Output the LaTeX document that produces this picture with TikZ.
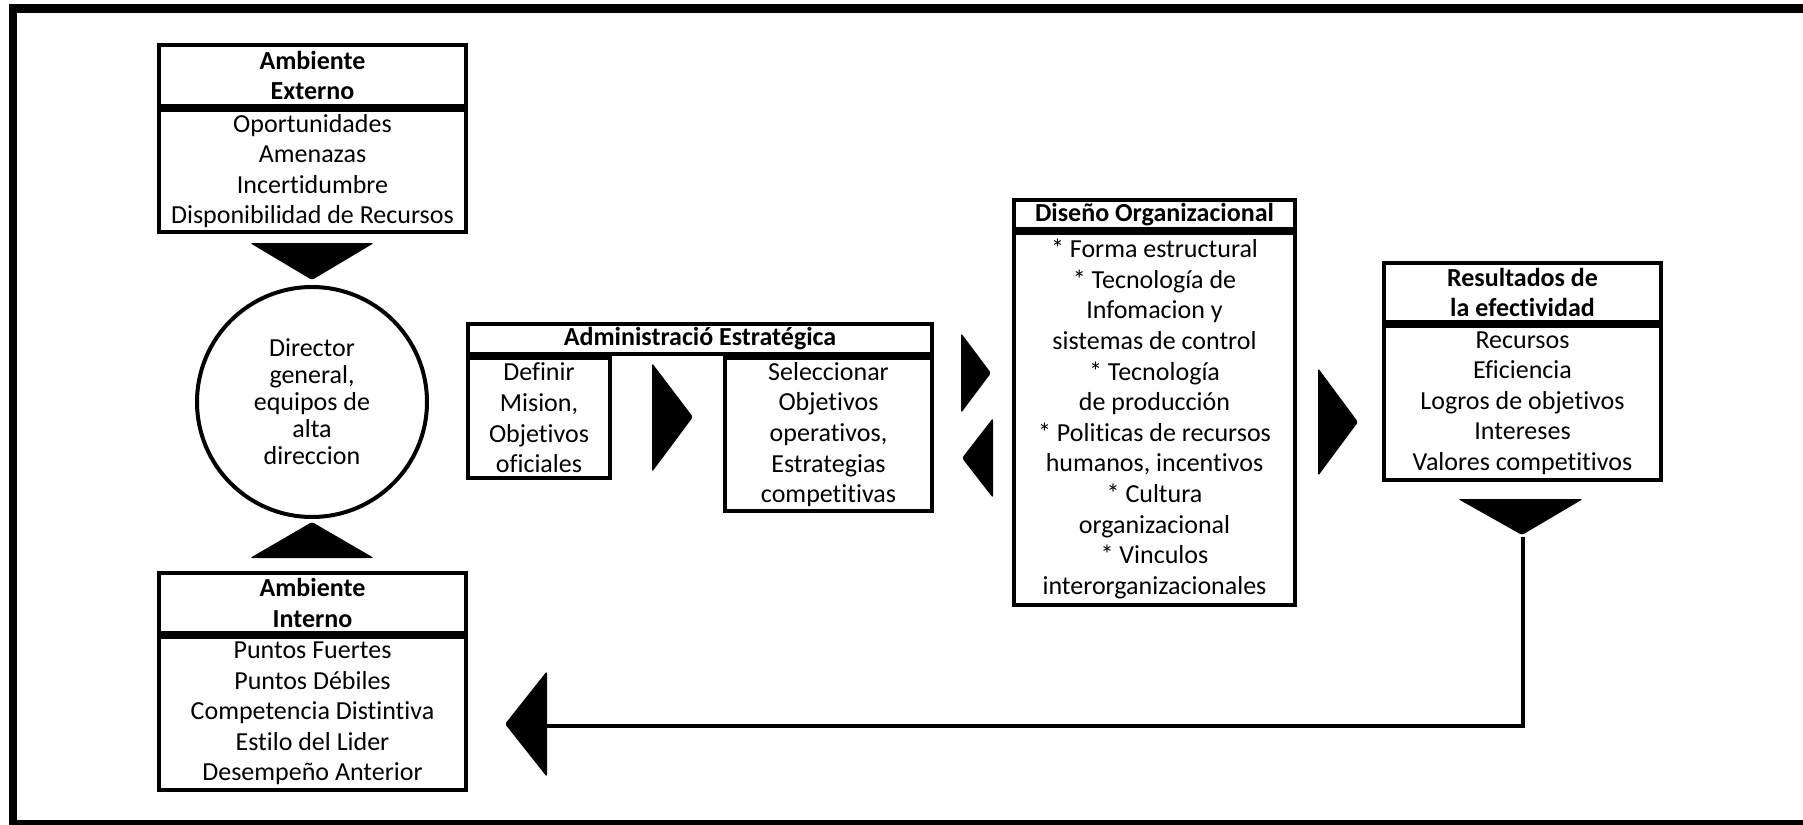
\documentclass[tikz,border=0pt]{standalone}
\usepackage{fontspec}
\setmainfont{Carlito}[Ligatures=NoCommon]
\usetikzlibrary{positioning}
\tikzset{
  caja/.style={draw=black, line width=2pt, inner sep=0pt, align=center,
    font=\fontsize{13}{15.3}\selectfont},
  titulo/.style={caja, font=\bfseries\fontsize{13}{15.3}\selectfont},
  flecha/.style={fill=black, rounded corners=1.2pt},
  enlace/.style={draw=black, line width=1.75pt},
}

\begin{document}
\begin{tikzpicture}[x=0.5pt,y=-0.5pt]
\useasboundingbox (0,0) rectangle (1803,824);
% marco
\draw[line width=4.25pt] (1810,8.5) -- (13,8.5) -- (13,824) -- (1810,824);

% ambiente externo
\node[titulo, minimum width=153.5pt, minimum height=30.5pt] (extH) at (312.5,75.5) {Ambiente\\Externo};
\node[caja, minimum width=153.5pt, minimum height=61pt, below=0pt of extH] (extB)
  {Oportunidades\\Amenazas\\Incertidumbre\\Disponibilidad de Recursos};
\fill[flecha] (250,243) -- (374,243) -- (312,280) -- cycle;

% direccion
\node[caja, circle, minimum size=115pt, font=\fontsize{13}{13.5}\selectfont] (dir) at (312,402)
  {Director\\general,\\equipos de\\alta\\direccion};
\fill[flecha] (250,558) -- (374,558) -- (312,522) -- cycle;

% ambiente interno
\node[titulo, minimum width=153.5pt, minimum height=30pt] (intH) at (312.5,603) {Ambiente\\Interno};
\node[caja, minimum width=153.5pt, minimum height=76.5pt, below=0pt of intH] (intB)
  {Puntos Fuertes\\Puntos Débiles\\Competencia Distintiva\\Estilo del Lider\\Desempeño Anterior};

% administracion estrategica
\node[titulo, minimum width=232pt, minimum height=15pt] (admH) at (700,339) {Administració Estratégica};
\node[caja, minimum width=71pt, minimum height=60pt, anchor=north west] (defB) at (admH.south west)
  {Definir\\Mision,\\Objetivos\\oficiales};
\node[caja, minimum width=103.5pt, minimum height=76.5pt, anchor=north east] (selB) at (admH.south east)
  {Seleccionar\\Objetivos\\operativos,\\Estrategias\\competitivas};
\fill[flecha] (652,363) -- (693,417) -- (652,472) -- cycle;
\fill[flecha] (961,333) -- (991,373) -- (961,413) -- cycle;
\fill[flecha] (993,418) -- (962,458) -- (993,498) -- cycle;

% diseno organizacional
\node[titulo, minimum width=140.5pt, minimum height=14.5pt] (disH) at (1154.5,214.5) {Diseño Organizacional};
\node[caja, minimum width=140.5pt, minimum height=186pt, below=0pt of disH] (disB)
  {* Forma estructural\\* Tecnología de\\Infomacion y\\sistemas de control\\* Tecnología\\de producción\\
   * Politicas de recursos\\humanos, incentivos\\* Cultura\\organizacional\\* Vinculos\\interorganizacionales};
\fill[flecha] (1318,368) -- (1358,422) -- (1318,476) -- cycle;

% resultados
\node[titulo, minimum width=138.5pt, minimum height=29.5pt] (resH) at (1522.5,292.5) {Resultados de\\la efectividad};
\node[caja, minimum width=138.5pt, minimum height=77pt, below=0pt of resH] (resB)
  {Recursos\\Eficiencia\\Logros de objetivos\\Intereses\\Valores competitivos};
\fill[flecha] (1458,499) -- (1583,499) -- (1522,535) -- cycle;

% retroalimentacion
\coordinate (fbA) at (1523,537);
\coordinate (fbB) at (546,726);
\draw[enlace] (fbA) |- (fbB);
\fill[flecha] (547,671) -- (505,724) -- (547,777) -- cycle;
\end{tikzpicture}
\end{document}
